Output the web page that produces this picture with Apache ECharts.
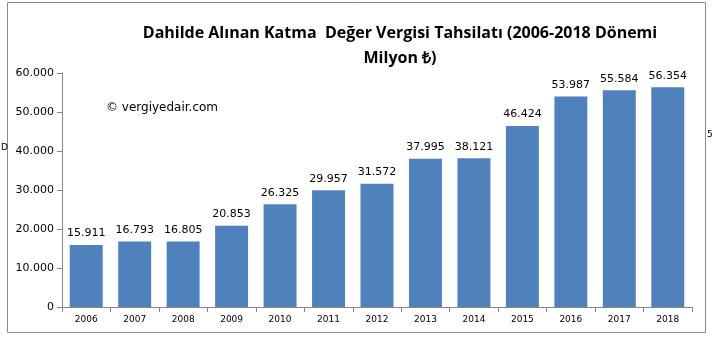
<!DOCTYPE html>
<html><head><meta charset="utf-8">
<script src="https://cdn.jsdelivr.net/npm/echarts@6/dist/echarts.min.js"></script>
<style>html,body{margin:0;padding:0;background:#fff}#c{width:712px;height:342px}</style>
</head><body><div id="c"></div>
<script>
const years = ['2006','2007','2008','2009','2010','2011','2012','2013','2014','2015','2016','2017','2018'];
const values = [15911,16793,16805,20853,26325,29957,31572,37995,38121,46424,53987,55584,56354];
const yTicks = [0,10000,20000,30000,40000,50000,60000];
const titleText = 'Dahilde Alınan Katma  Değer Vergisi Tahsilatı (2006-2018 Dönemi\nMilyon ₺)';
const watermark = '© vergiyedair.com';

function fmt(v){ return String(v).replace(/\B(?=(\d{3})+(?!\d))/g,'.'); }

const chart = echarts.init(document.getElementById('c'));
chart.setOption({
  animation:false,
  backgroundColor:'#fff',
  title:{text:titleText,left:395,top:16,textAlign:'center',
    textStyle:{fontFamily:'Open Sans',fontWeight:'bold',fontSize:16,lineHeight:25,color:'#000'}},
  graphic:[
    {type:'rect',shape:{x:7.5,y:2.5,width:698,height:330},style:{fill:null,stroke:'#8c8c8c',lineWidth:1}},
    {type:'text',left:106,top:102,style:{text:watermark,fontFamily:'DejaVu Sans',fontSize:12,fill:'#000'}},
    {type:'text',left:1,top:143,style:{text:'D',fontFamily:'DejaVu Sans',fontSize:9,fill:'#000'}},
    {type:'text',left:707,top:130,style:{text:'5',fontFamily:'DejaVu Sans',fontSize:9,fill:'#000'}}
  ],
  grid:{left:62,right:20,top:73,bottom:35},
  xAxis:{type:'category',data:years,
    axisLine:{lineStyle:{color:'#868686'}},
    axisTick:{show:true,alignWithLabel:false,lineStyle:{color:'#868686'},length:5},
    axisLabel:{fontFamily:'DejaVu Sans',fontSize:9,color:'#000',margin:8}},
  yAxis:{type:'value',min:0,max:60000,interval:10000,
    splitLine:{show:false},
    axisLine:{show:true,lineStyle:{color:'#868686'}},
    axisTick:{show:true,length:5,lineStyle:{color:'#868686'}},
    axisLabel:{fontFamily:'DejaVu Sans',fontSize:11,color:'#000',margin:8,
      formatter:v=>yTicks.includes(v)?fmt(v):''}},
  series:[{type:'bar',data:values,barCategoryGap:'32%',
    itemStyle:{color:'#4F81BD'},
    label:{show:true,position:'top',distance:6,fontFamily:'DejaVu Sans',fontSize:11,color:'#000',
      formatter:p=>fmt(p.value)}}]
});
</script></body></html>
